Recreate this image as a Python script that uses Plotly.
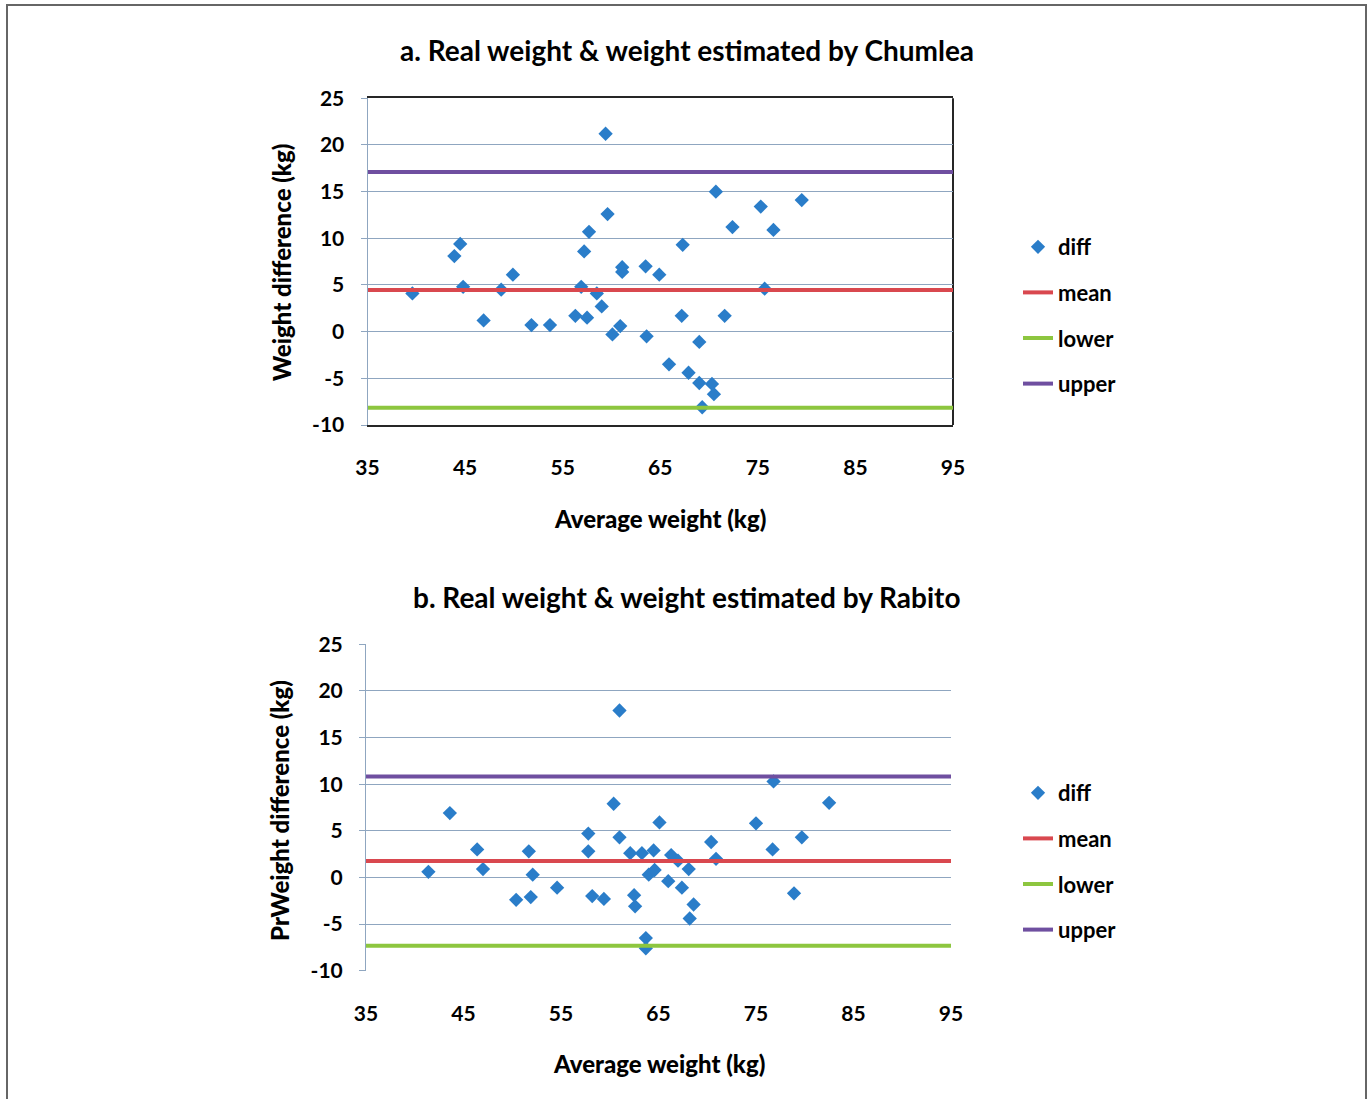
import plotly.graph_objects as go

# ---------------- data ----------------
# Panel a: Chumlea
avg_a = [39.6, 43.9, 44.5, 44.8, 46.9, 48.7, 49.9, 51.8, 53.7, 56.3, 56.9, 57.2, 57.5, 57.7,
         58.5, 59.0, 59.4, 59.6, 60.1, 60.9, 61.1, 61.1, 63.5, 63.6, 64.9, 67.3, 67.2, 65.9,
         67.9, 69.0, 69.0, 69.3, 70.3, 70.5, 70.7, 71.6, 72.4, 75.3, 75.7, 76.6, 79.5]
diff_a = [4.1, 8.1, 9.4, 4.8, 1.2, 4.5, 6.1, 0.7, 0.7, 1.7, 4.8, 8.6, 1.5, 10.7,
          4.1, 2.7, 21.2, 12.6, -0.3, 0.6, 6.9, 6.4, 7.0, -0.5, 6.1, 9.3, 1.7, -3.5,
          -4.4, -1.1, -5.5, -8.1, -5.6, -6.7, 15.0, 1.7, 11.2, 13.4, 4.6, 10.9, 14.1]
mean_a, lower_a, upper_a = 4.45, -8.15, 17.1

# Panel b: Rabito
avg_b = [41.4, 43.6, 46.4, 47.0, 50.4, 51.7, 52.1, 51.9, 54.6, 57.8, 57.8, 58.2, 59.4, 60.4,
         61.0, 61.0, 62.1, 62.5, 62.6, 63.3, 63.7, 63.7, 64.0, 64.5, 64.6, 65.1, 66.0, 66.3,
         67.0, 67.4, 68.1, 68.6, 68.2, 70.4, 70.9, 75.0, 76.7, 76.8, 78.9, 79.7, 82.5]
diff_b = [0.6, 6.9, 3.0, 0.9, -2.4, 2.8, 0.3, -2.1, -1.1, 4.7, 2.8, -2.0, -2.3, 7.9,
          17.9, 4.3, 2.6, -1.9, -3.1, 2.6, -6.5, -7.6, 0.3, 2.9, 0.8, 5.9, -0.4, 2.4,
          1.8, -1.1, 0.9, -2.9, -4.4, 3.8, 2.0, 5.8, 3.0, 10.3, -1.7, 4.3, 8.0]
mean_b, lower_b, upper_b = 1.75, -7.32, 10.82

x_range = [35, 95]
y_range = [-10, 25]
x_ticks = [35, 45, 55, 65, 75, 85, 95]
y_ticks = [-10, -5, 0, 5, 10, 15, 20, 25]
y_tick_labels = ["-10", "-5", "0", "5", "10", "15", "20", "25"]

# ---------------- layout helpers ----------------
W, H = 1371, 1099
def px(x):                    # page pixel -> paper fraction
    return x / W
def py(y):
    return 1 - y / H

FONT = "Lato, Open Sans, sans-serif"
GRID = "#8FA6C0"
DARK = "#262626"
C_DIFF = "#2A7DC9"
C_MEAN = "#D9484F"
C_LOW = "#8DC63F"
C_UP = "#6F4FA0"

panels = [
    dict(avg=avg_a, diff=diff_a, mean=mean_a, lower=lower_a, upper=upper_a,
         xdom=[px(367.5), px(953)], ydom=[py(425), py(98.3)], frame=True, standoff=23,
         title="a. Real weight & weight estimated by Chumlea", tx=687, ty=50,
         ytitle="Weight difference (kg)", ytx=281, yty=263,
         xtitle="Average weight (kg)", xtx=660, xty=518,
         legend="legend", leg_y=226),
    dict(avg=avg_b, diff=diff_b, mean=mean_b, lower=lower_b, upper=upper_b,
         xdom=[px(366), px(951)], ydom=[py(970.7), py(644.3)], frame=False, standoff=28,
         title="b. Real weight & weight estimated by Rabito", tx=686, ty=597,
         ytitle="PrWeight difference (kg)", ytx=279, yty=811,
         xtitle="Average weight (kg)", xtx=659, xty=1063,
         legend="legend2", leg_y=772),
]

fig = go.Figure()
layout = dict(width=W, height=H, margin=dict(l=0, r=0, t=0, b=0, pad=0, autoexpand=False),
              paper_bgcolor="white", plot_bgcolor="white",
              font=dict(family=FONT, color="black"), showlegend=True)
annotations = []
shapes = []

for i, p in enumerate(panels):
    xa = "x" if i == 0 else "x2"
    ya = "y" if i == 0 else "y2"
    xkey = "xaxis" if i == 0 else "xaxis2"
    ykey = "yaxis" if i == 0 else "yaxis2"
    zkey = "xaxis3" if i == 0 else "xaxis4"

    fig.add_trace(go.Scatter(x=p["avg"], y=p["diff"], mode="markers", name="diff",
                             marker=dict(symbol="diamond", size=11, color=C_DIFF),
                             xaxis=xa, yaxis=ya, legend=p["legend"], legendgroup=f"d{i}"))
    for nm, val, col in [("mean", p["mean"], C_MEAN), ("lower", p["lower"], C_LOW),
                         ("upper", p["upper"], C_UP)]:
        fig.add_trace(go.Scatter(x=x_range, y=[val, val], mode="lines", name=nm,
                                 line=dict(color=col, width=4),
                                 xaxis=xa, yaxis=ya, legend=p["legend"],
                                 legendgroup=f"{nm}{i}"))

    tickfont = dict(size=21, family=FONT, weight="bold", color="black")
    layout[xkey] = dict(domain=p["xdom"], anchor=ya, range=x_range, tickvals=x_ticks,
                        showgrid=False, zeroline=False, ticks="", automargin=False,
                        showline=p["frame"], linecolor=DARK, linewidth=2, mirror=p["frame"],
                        tickfont=tickfont, ticklabelstandoff=p["standoff"])
    layout[ykey] = dict(domain=p["ydom"], anchor=xa, range=y_range, tickvals=y_ticks,
                        ticktext=y_tick_labels,
                        showgrid=True, gridcolor=GRID, gridwidth=1, zeroline=False,
                        ticks="outside", ticklen=6, tickcolor=GRID, automargin=False,
                        showline=True, linecolor=GRID, linewidth=1,
                        tickfont=tickfont, ticklabelstandoff=12)
    # horizontal axis crossing at y = 0 (tick marks only)
    frac0 = (0 - y_range[0]) / (y_range[1] - y_range[0])
    pos0 = p["ydom"][0] + frac0 * (p["ydom"][1] - p["ydom"][0])
    layout[zkey] = dict(domain=p["xdom"], overlaying=xa, anchor="free", position=pos0,
                        side="bottom", range=x_range, tickvals=x_ticks, showgrid=False,
                        zeroline=False, showticklabels=False, ticks="outside", ticklen=7,
                        tickcolor=GRID, showline=True, linecolor=GRID, linewidth=1,
                        automargin=False)
    if p["frame"]:
        shapes.append(dict(type="line", xref=f"{xa} domain", yref=f"{ya} domain",
                           x0=1, x1=1, y0=0, y1=1, line=dict(color=DARK, width=2),
                           layer="below"))

    legend_cfg = dict(x=px(1018), y=py(p["leg_y"]), xanchor="left", yanchor="top",
                      font=dict(size=22, family=FONT, color="black", weight="bold"),
                      tracegroupgap=14, bgcolor="rgba(0,0,0,0)")
    layout[p["legend"]] = legend_cfg

    annotations.append(dict(text=p["title"], x=px(p["tx"]), y=py(p["ty"]),
                            xref="paper", yref="paper", showarrow=False,
                            font=dict(size=28, family=FONT, weight="bold"),
                            xanchor="center", yanchor="middle"))
    annotations.append(dict(text=p["xtitle"], x=px(p["xtx"]), y=py(p["xty"]),
                            xref="paper", yref="paper", showarrow=False,
                            font=dict(size=24, family=FONT, weight=900),
                            xanchor="center", yanchor="middle"))
    annotations.append(dict(text=p["ytitle"], x=px(p["ytx"]), y=py(p["yty"]),
                            xref="paper", yref="paper", showarrow=False, textangle=-90,
                            font=dict(size=24, family=FONT, weight=900),
                            xanchor="center", yanchor="middle"))

# page border (left, top, right)
shapes.append(dict(type="path", xref="paper", yref="paper",
                   path=f"M {px(7)} 0 L {px(7)} {py(5)} L {px(1366)} {py(5)} L {px(1366)} 0",
                   line=dict(color="#666666", width=2)))

layout["annotations"] = annotations
layout["shapes"] = shapes
fig.update_layout(**layout)

fig.write_html("out.html", config={"displayModeBar": False},
               post_script="document.body.style.margin='0px';document.body.style.overflow='hidden';")
